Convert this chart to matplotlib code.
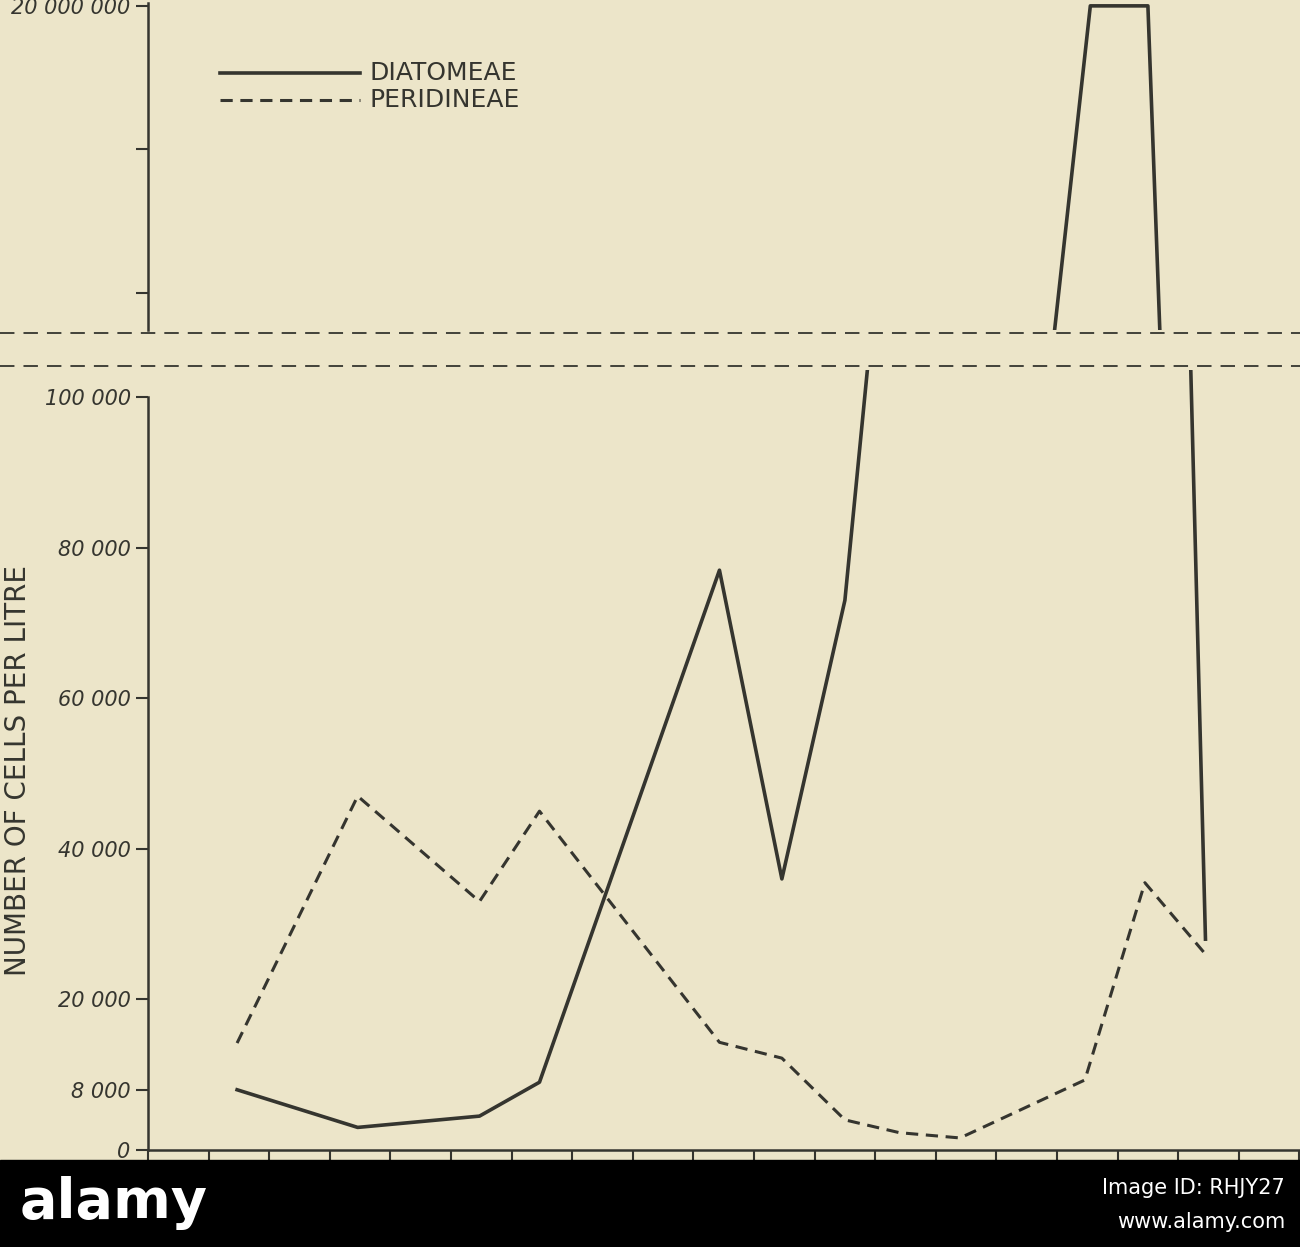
import numpy as np
import matplotlib.pyplot as plt
from matplotlib.patches import Rectangle
from matplotlib.lines import Line2D

BG = '#ece5c9'
INK = '#35352f'

# x positions in tick units (0 = left axis)
diat_x = [1.47, 3.46, 5.47, 6.46, 9.43, 10.46, 11.5, 11.9, 17.2, 17.45]
diat_y = [8000, 3000, 4500, 9000, 77000, 36000, 73000, 106000, 106000, 28000]
diat_top_x = [14.95, 15.55, 16.5, 16.7]
diat_top_y = [8.5e6, 20e6, 20e6, 8.5e6]
peri_x = [1.47, 3.46, 5.47, 6.46, 9.43, 10.46, 11.5, 12.4, 13.4, 15.46, 16.45, 17.45]
peri_y = [14200, 47000, 33000, 45000, 14300, 12200, 4000, 2300, 1600, 9300, 35500, 26000]
yticks = [0, 8000, 20000, 40000, 60000, 80000, 100000]
ytick_labels = ['0', '8 000', '20 000', '40 000', '60 000', '80 000', '100 000']

W, H = 1300, 1247
fig = plt.figure(figsize=(13, 12.47), dpi=100, facecolor=BG)

def fx(px): return px / W
def fy(py): return 1 - py / H

# lower panel
ax = fig.add_axes([fx(148), fy(1150), fx(1152), fy(370) - fy(1150)])
ax.set_facecolor(BG)
ax.set_xlim(0, 1152 / 60.6)
ax.set_ylim(0, (1150 - 370) / 7.53 * 1000)
ax.plot(diat_x, diat_y, color=INK, lw=2.6, clip_on=True)
ax.plot(peri_x, peri_y, color=INK, lw=2.2, ls=(0, (4, 2.5)))
ax.set_yticks(yticks)
ax.set_yticklabels(ytick_labels, fontstyle='italic', fontsize=15, color=INK)
ax.set_xticks(np.arange(0, 20))
ax.set_xticklabels([])
ax.tick_params(colors=INK, length=9, width=1.5)
for s in ['top', 'right']:
    ax.spines[s].set_visible(False)
for s in ['left', 'bottom']:
    ax.spines[s].set_color(INK)
    ax.spines[s].set_linewidth(1.8)
ax.spines['left'].set_bounds(0, 100000)

# upper panel
ax2 = fig.add_axes([fx(148), fy(330), fx(1152), fy(3) - fy(330)])
ax2.set_facecolor(BG)
ax2.set_xlim(0, 1152 / 60.6)
ax2.set_ylim(8.7e6, 20.1e6)
ax2.plot(diat_top_x, diat_top_y, color=INK, lw=2.6)
ax2.set_yticks([10e6, 15e6, 20e6])
ax2.set_yticklabels(['', '', '20 000 000'], fontstyle='italic', fontsize=15, color=INK)
ax2.set_xticks([])
ax2.tick_params(colors=INK, length=9, width=1.5)
for s in ['top', 'right', 'bottom']:
    ax2.spines[s].set_visible(False)
ax2.spines['left'].set_color(INK)
ax2.spines['left'].set_linewidth(1.8)

# break lines
for py in (333, 366):
    fig.add_artist(Line2D([0, 1], [fy(py), fy(py)], color=INK, lw=1.3, ls=(0, (8, 5))))

# legend
fig.add_artist(Line2D([fx(220), fx(360)], [fy(73), fy(73)], color=INK, lw=2.6))
fig.add_artist(Line2D([fx(220), fx(360)], [fy(100), fy(100)], color=INK, lw=2.2, ls=(0, (4, 2.5))))
fig.text(fx(370), fy(73), 'DIATOMEAE', fontsize=18, color=INK, va='center')
fig.text(fx(370), fy(100), 'PERIDINEAE', fontsize=18, color=INK, va='center')

fig.text(fx(18), fy(770), 'NUMBER OF CELLS PER LITRE', rotation=90, fontsize=20,
         color=INK, va='center', ha='center')

# stock banner
fig.add_artist(Rectangle((0, 0), 1, fy(1160), transform=fig.transFigure, color='black'))
fig.text(fx(20), fy(1203), 'alamy', fontsize=40, fontweight='bold', color='white', va='center')
fig.text(fx(1285), fy(1188), 'Image ID: RHJY27', fontsize=15, color='white', va='center', ha='right')
fig.text(fx(1285), fy(1222), 'www.alamy.com', fontsize=15, color='white', va='center', ha='right')

fig.savefig('out.png', dpi=100, facecolor=BG)
